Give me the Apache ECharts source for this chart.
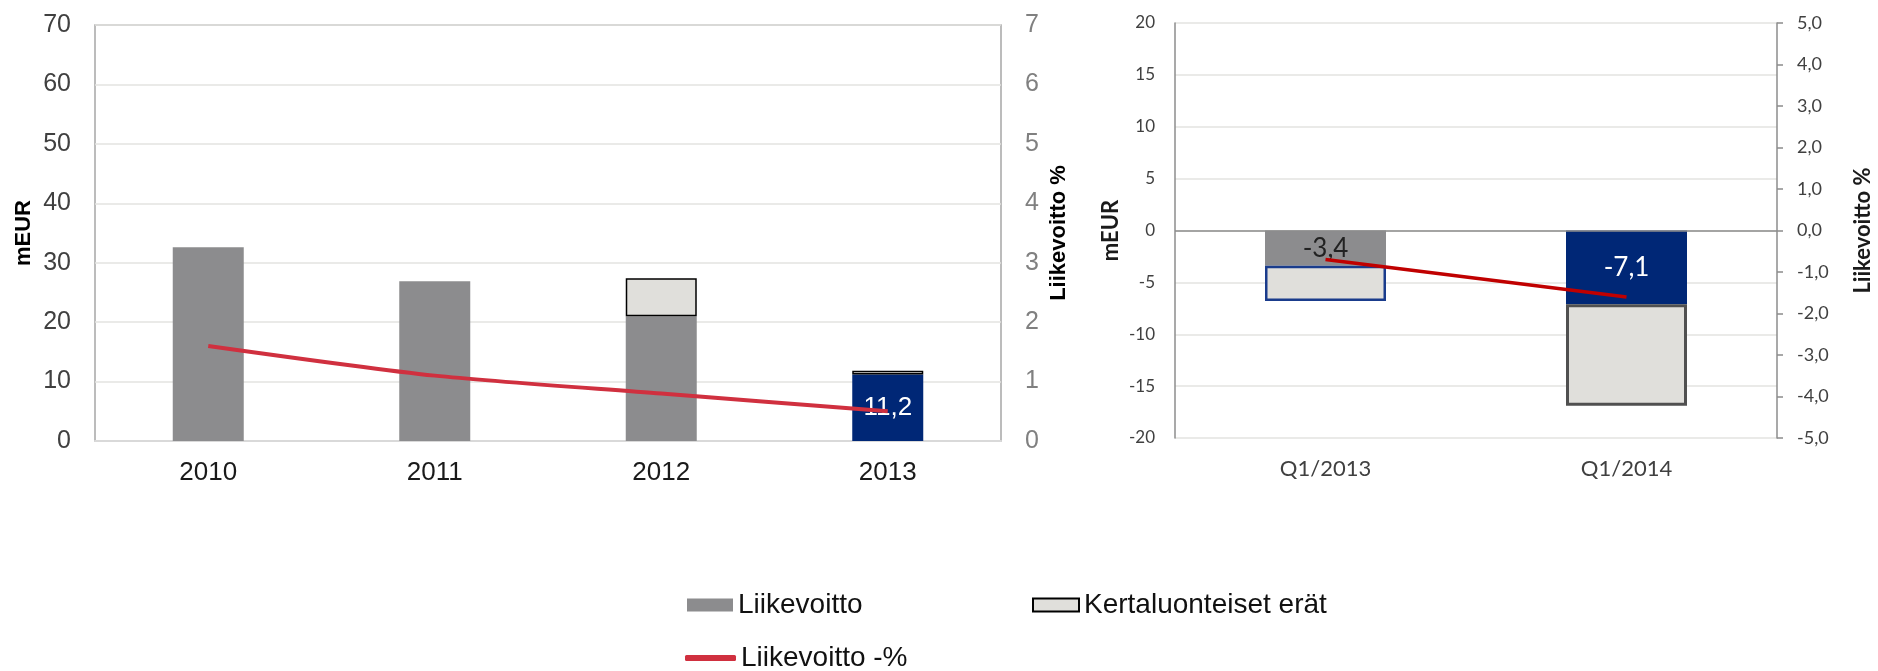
<!DOCTYPE html>
<html>
<head>
<meta charset="utf-8">
<script src="https://cdn.jsdelivr.net/npm/echarts@6/dist/echarts.min.js"></script>
<style>
  body { margin: 0; background: #fff; }
  #chart { width: 1878px; height: 671px; }
</style>
</head>
<body>
<div id="chart"></div>
<script>
// vuositason luvut (mEUR)
var years = ["2010", "2011", "2012", "2013"];
var yearProfit = [32.6, 26.9, 21.0, 11.2];
var yearOneOff = [null, null, 6.4, 0.6];
var yearMargin = [1.6, 1.1, 0.8, 0.5];

// neljännekset
var quarters = ["Q1/2013", "Q1/2014"];
var qProfit = [-3.4, -7.1];
var qOneOff = [-3.4, -9.8];
var qMargin = [-0.7, -1.6];

var GREY = "#8c8c8e";
var BLUE = "#002776";
var LIGHT = "#e0dfdb";
var ARIAL = "'Liberation Sans', Arial, sans-serif";
var CALIBRI = "Lato, 'Open Sans', sans-serif";

function comma(v, d) {
  return (d == null ? String(v) : v.toFixed(d)).replace(".", ",");
}

var myChart = echarts.init(document.getElementById("chart"));

// vasen kaavio: viimeinen vuosi sinisenä
var leftProfit = yearProfit.map(function (v, i) {
  if (i === yearProfit.length - 1) {
    return {
      value: v,
      itemStyle: { color: BLUE },
      label: { show: true, position: "inside", color: "#fff", fontSize: 26, fontFamily: ARIAL, formatter: function (p) { return comma(p.value); } }
    };
  }
  return v;
});
var leftOneOff = yearOneOff.map(function (v) { return v == null ? "-" : v; });

// oikea kaavio
var rightProfit = [
  { value: qProfit[0], itemStyle: { color: GREY },
    label: { show: true, position: "inside", color: "#222", fontSize: 26, fontFamily: CALIBRI, formatter: function (p) { return comma(p.value); } } },
  { value: qProfit[1], itemStyle: { color: BLUE },
    label: { show: true, position: "inside", color: "#fff", fontSize: 26, fontFamily: CALIBRI, formatter: function (p) { return comma(p.value); } } }
];
var rightOneOff = [
  { value: qOneOff[0], itemStyle: { color: LIGHT, borderColor: "#1a3c8c", borderWidth: 2.5 } },
  { value: qOneOff[1], itemStyle: { color: LIGHT, borderColor: "#505050", borderWidth: 3 } }
];

var legendText = { fontSize: 28, fontFamily: ARIAL, color: "#111" };

var option = {
  animation: false,
  backgroundColor: "#fff",
  legend: [
    { data: ["Liikevoitto"], left: 682, top: 586, icon: "rect", itemWidth: 46, itemHeight: 13, textStyle: legendText },
    { data: ["Kertaluonteiset erät"], left: 1027, top: 586, icon: "rect", itemWidth: 46, itemHeight: 13, textStyle: legendText },
    { data: ["Liikevoitto -%"], left: 680, top: 639, icon: "roundRect", itemWidth: 51, itemHeight: 6, textStyle: legendText }
  ],
  grid: [
    { left: 95, right: 877, top: 25, bottom: 230, show: true, borderColor: "#a6a6a6", borderWidth: 1.5 },
    { left: 1175, right: 101, top: 23, bottom: 233 }
  ],
  xAxis: [
    {
      type: "category", gridIndex: 0, data: years,
      axisLine: { lineStyle: { color: "#d9d9d9", width: 2 } },
      axisTick: { show: false },
      axisLabel: { fontSize: 26, fontFamily: ARIAL, color: "#1a1a1a", margin: 19 }
    },
    {
      type: "category", gridIndex: 1, data: quarters,
      axisLine: { show: false, onZero: false },
      axisTick: { show: false },
      axisLabel: { fontSize: 22, fontFamily: CALIBRI, color: "#404040", margin: 20 }
    }
  ],
  yAxis: [
    {
      type: "value", gridIndex: 0, min: 0, max: 70, interval: 10,
      name: "mEUR", nameLocation: "middle", nameGap: 60,
      nameTextStyle: { fontSize: 22, fontWeight: "bold", fontFamily: ARIAL, color: "#000" },
      axisLine: { show: false }, axisTick: { show: false },
      axisLabel: { fontSize: 25, fontFamily: ARIAL, color: "#404040", margin: 24 },
      splitLine: { lineStyle: { color: "#e3e3e0", width: 1.5 } }
    },
    {
      type: "value", gridIndex: 0, position: "right", min: 0, max: 7, interval: 1,
      name: "Liikevoitto %", nameLocation: "middle", nameGap: 47,
      nameTextStyle: { fontSize: 22, fontWeight: "bold", fontFamily: ARIAL, color: "#000" },
      axisLine: { show: false }, axisTick: { show: false },
      axisLabel: { fontSize: 25, fontFamily: ARIAL, color: "#808080", margin: 24 },
      splitLine: { show: false }
    },
    {
      type: "value", gridIndex: 1, min: -20, max: 20, interval: 5,
      name: "mEUR", nameLocation: "middle", nameGap: 53,
      nameTextStyle: { fontSize: 22, fontWeight: "bold", fontFamily: CALIBRI, color: "#1a1a1a" },
      axisLine: { show: true, lineStyle: { color: "#8c8c8c", width: 1.5 } },
      axisTick: { show: false },
      axisLabel: { fontSize: 17, fontFamily: CALIBRI, color: "#404040", margin: 20 },
      splitLine: { lineStyle: { color: "#e3e3e0", width: 1.5 } }
    },
    {
      type: "value", gridIndex: 1, position: "right", min: -5, max: 5, interval: 1,
      name: "Liikevoitto %", nameLocation: "middle", nameGap: 75,
      nameTextStyle: { fontSize: 22, fontWeight: "bold", fontFamily: CALIBRI, color: "#1a1a1a" },
      axisLine: { show: true, lineStyle: { color: "#8c8c8c", width: 1.5 } },
      axisTick: { show: true, inside: false, length: 6, lineStyle: { color: "#8c8c8c", width: 1.5 } },
      axisLabel: { fontSize: 18, fontFamily: CALIBRI, color: "#404040", margin: 20,
        formatter: function (v) { return comma(v, 1); } },
      splitLine: { show: false }
    }
  ],
  series: [
    {
      name: "Liikevoitto", type: "bar", xAxisIndex: 0, yAxisIndex: 0, stack: "vuosi",
      barWidth: 71, itemStyle: { color: GREY }, data: leftProfit
    },
    {
      name: "Kertaluonteiset erät", type: "bar", xAxisIndex: 0, yAxisIndex: 0, stack: "vuosi",
      barWidth: 71, itemStyle: { color: LIGHT, borderColor: "#000", borderWidth: 1.5 }, data: leftOneOff
    },
    {
      name: "Liikevoitto -%", type: "line", xAxisIndex: 0, yAxisIndex: 1,
      smooth: 0.25, symbol: "none", z: 3,
      lineStyle: { color: "#d0303f", width: 4 }, itemStyle: { color: "#d0303f" },
      data: yearMargin
    },
    {
      name: "Liikevoitto", type: "bar", xAxisIndex: 1, yAxisIndex: 2, stack: "kvartaali",
      barWidth: 121, itemStyle: { color: GREY }, data: rightProfit,
      markLine: {
        silent: true, symbol: "none", label: { show: false },
        lineStyle: { color: "#8c8c8c", width: 1.5, type: "solid" },
        data: [{ yAxis: 0 }]
      }
    },
    {
      name: "Kertaluonteiset erät", type: "bar", xAxisIndex: 1, yAxisIndex: 2, stack: "kvartaali",
      barWidth: 121, itemStyle: { color: LIGHT }, data: rightOneOff
    },
    {
      name: "Liikevoitto -%", type: "line", xAxisIndex: 1, yAxisIndex: 3,
      symbol: "none", z: 3,
      lineStyle: { color: "#c00000", width: 3.5 }, itemStyle: { color: "#c00000" },
      data: qMargin
    }
  ]
};

myChart.setOption(option);
</script>
</body>
</html>
